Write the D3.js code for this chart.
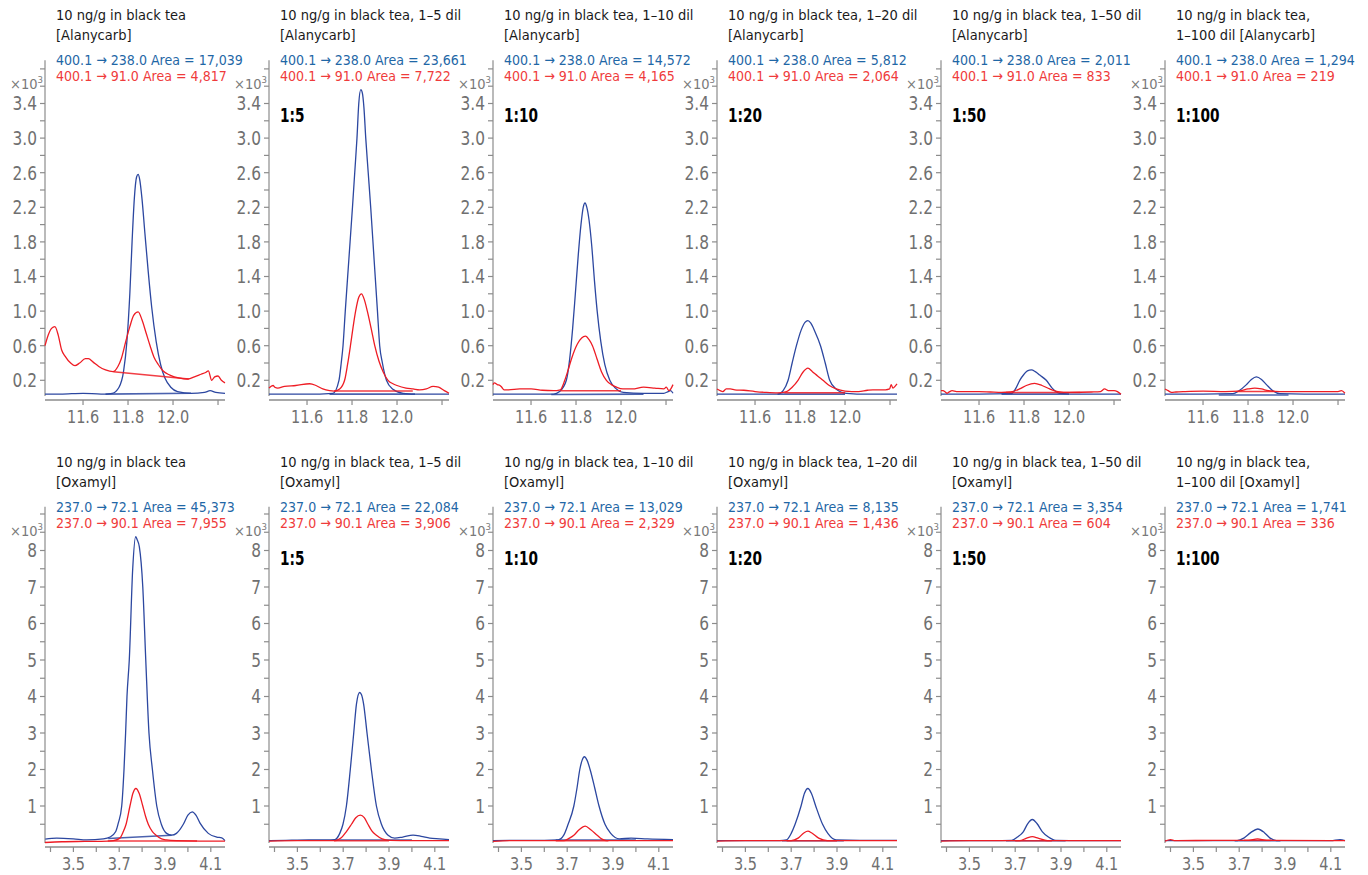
<!DOCTYPE html>
<html><head><meta charset="utf-8">
<script src="https://cdn.jsdelivr.net/npm/d3@7"></script>
<style>
html,body{margin:0;padding:0;background:#fff;}
svg{display:block;}
text{font-stretch:condensed;}
</style>
</head><body>
<svg id="chart" width="1368" height="875"></svg>
<script>
// ---------- text data ----------
const titlesTop = [
  ["10 ng/g in black tea", "[Alanycarb]"],
  ["10 ng/g in black tea, 1–5 dil", "[Alanycarb]"],
  ["10 ng/g in black tea, 1–10 dil", "[Alanycarb]"],
  ["10 ng/g in black tea, 1–20 dil", "[Alanycarb]"],
  ["10 ng/g in black tea, 1–50 dil", "[Alanycarb]"],
  ["10 ng/g in black tea,", "1–100 dil [Alanycarb]"]
];
const titlesBottom = [
  ["10 ng/g in black tea", "[Oxamyl]"],
  ["10 ng/g in black tea, 1–5 dil", "[Oxamyl]"],
  ["10 ng/g in black tea, 1–10 dil", "[Oxamyl]"],
  ["10 ng/g in black tea, 1–20 dil", "[Oxamyl]"],
  ["10 ng/g in black tea, 1–50 dil", "[Oxamyl]"],
  ["10 ng/g in black tea,", "1–100 dil [Oxamyl]"]
];
const dilutions = ["", "1:5", "1:10", "1:20", "1:50", "1:100"];
const transTop = ["400.1 → 238.0", "400.1 → 91.0"];
const transBottom = ["237.0 → 72.1", "237.0 → 90.1"];
const areaTopQuant = ["17,039", "23,661", "14,572", "5,812", "2,011", "1,294"];
const areaTopQual  = ["4,817", "7,722", "4,165", "2,064", "833", "219"];
const areaBotQuant = ["45,373", "22,084", "13,029", "8,135", "3,354", "1,741"];
const areaBotQual  = ["7,955", "3,906", "2,329", "1,436", "604", "336"];

// ---------- axis data ----------
const xDomainTop = [11.431, 12.231];
const xTicksTop = [11.6, 11.8, 12.0, 12.2];
const xLabelsTop = [11.6, 11.8, 12.0];
const yDomainTop = [0, 3.9];
const yTicksTop = [0.2,0.4,0.6,0.8,1.0,1.2,1.4,1.6,1.8,2.0,2.2,2.4,2.6,2.8,3.0,3.2,3.4,3.6,3.8];
const yLabelsTop = [0.2,0.6,1.0,1.4,1.8,2.2,2.6,3.0,3.4];

const xDomainBot = [3.376, 4.162];
const xTicksBot = [3.4,3.5,3.6,3.7,3.8,3.9,4.0,4.1];
const xLabelsBot = [3.5,3.7,3.9,4.1];
const yDomainBot = [0, 9.2];
const yTicksBot = [0.5,1,1.5,2,2.5,3,3.5,4,4.5,5,5.5,6,6.5,7,7.5,8,8.5,9];
const yLabelsBot = [1,2,3,4,5,6,7,8];

// ---------- Alanycarb traces (time min, counts x10^3) ----------
const ala1Blue = [[11.431,0.04],[11.5,0.04],[11.6,0.05],[11.68,0.04],[11.73,0.05],[11.76,0.12],[11.78,0.3],[11.795,0.65],[11.808,1.2],[11.818,1.8],[11.828,2.3],[11.838,2.55],[11.845,2.58],[11.852,2.52],[11.862,2.3],[11.875,1.9],[11.89,1.45],[11.905,1.05],[11.925,0.65],[11.945,0.38],[11.965,0.22],[11.99,0.12],[12.02,0.07],[12.08,0.05],[12.14,0.06],[12.165,0.08],[12.19,0.06],[12.231,0.05]];
const ala1Red = [[11.431,0.6],[11.445,0.72],[11.46,0.8],[11.475,0.82],[11.49,0.72],[11.505,0.55],[11.52,0.48],[11.545,0.4],[11.564,0.37],[11.585,0.4],[11.61,0.45],[11.624,0.45],[11.645,0.41],[11.67,0.36],[11.70,0.32],[11.733,0.3],[11.755,0.36],[11.77,0.45],[11.79,0.65],[11.808,0.82],[11.825,0.95],[11.845,0.99],[11.862,0.9],[11.88,0.75],[11.898,0.6],[11.915,0.47],[11.935,0.38],[11.955,0.31],[11.986,0.26],[12.03,0.225],[12.067,0.215],[12.095,0.24],[12.125,0.27],[12.145,0.29],[12.157,0.31],[12.172,0.2],[12.185,0.24],[12.2,0.25],[12.215,0.2],[12.231,0.17]];
const ala1Base = [[[11.70,0.04],[12.08,0.05]], [[11.735,0.30],[12.07,0.215]]];

const ala2Blue = [[11.431,0.04],[11.6,0.04],[11.715,0.05],[11.742,0.2],[11.752,0.4],[11.760,0.6],[11.77,1.0],[11.786,1.6],[11.802,2.2],[11.812,2.6],[11.822,3.0],[11.830,3.4],[11.839,3.56],[11.846,3.52],[11.853,3.35],[11.861,3.0],[11.872,2.6],[11.883,2.2],[11.898,1.6],[11.913,1.0],[11.923,0.6],[11.935,0.4],[11.953,0.2],[11.98,0.1],[12.027,0.05],[12.1,0.04],[12.231,0.04]];
const ala2Red = [[11.431,0.11],[11.449,0.14],[11.457,0.12],[11.47,0.11],[11.5,0.13],[11.55,0.14],[11.612,0.16],[11.64,0.14],[11.67,0.1],[11.7,0.08],[11.72,0.075],[11.745,0.1],[11.767,0.2],[11.78,0.38],[11.793,0.6],[11.805,0.82],[11.816,1.0],[11.83,1.16],[11.842,1.2],[11.855,1.13],[11.868,1.0],[11.885,0.8],[11.901,0.6],[11.92,0.42],[11.938,0.3],[11.96,0.2],[11.982,0.16],[12.0,0.14],[12.04,0.11],[12.071,0.1],[12.1,0.09],[12.13,0.1],[12.16,0.13],[12.185,0.12],[12.21,0.08],[12.231,0.05]];
const ala2Base = [[[11.70,0.04],[12.08,0.04]], [[11.72,0.075],[12.07,0.075]]];

const ala3Blue = [[11.431,0.04],[11.6,0.04],[11.7,0.04],[11.727,0.07],[11.757,0.2],[11.772,0.45],[11.785,0.8],[11.797,1.2],[11.81,1.65],[11.822,2.0],[11.832,2.2],[11.84,2.25],[11.848,2.2],[11.858,2.05],[11.87,1.75],[11.882,1.35],[11.894,1.0],[11.91,0.65],[11.928,0.38],[11.95,0.2],[11.975,0.11],[12.01,0.06],[12.1,0.05],[12.19,0.05],[12.21,0.07],[12.22,0.08],[12.231,0.05]];
const ala3Red = [[11.431,0.15],[11.437,0.17],[11.45,0.15],[11.462,0.14],[11.47,0.12],[11.48,0.09],[11.5,0.09],[11.55,0.1],[11.6,0.1],[11.65,0.085],[11.7,0.08],[11.73,0.09],[11.75,0.2],[11.765,0.32],[11.78,0.45],[11.806,0.62],[11.825,0.69],[11.842,0.71],[11.858,0.67],[11.873,0.6],[11.893,0.45],[11.913,0.3],[11.935,0.2],[11.957,0.15],[11.98,0.12],[12.008,0.1],[12.05,0.1],[12.1,0.12],[12.15,0.11],[12.19,0.1],[12.201,0.12],[12.213,0.08],[12.231,0.15]];
const ala3Base = [[[11.69,0.035],[12.1,0.04]], [[11.73,0.08],[12.0,0.08]]];

const ala4Blue = [[11.431,0.04],[11.6,0.04],[11.702,0.04],[11.725,0.08],[11.747,0.2],[11.765,0.4],[11.784,0.6],[11.805,0.78],[11.822,0.87],[11.835,0.89],[11.848,0.86],[11.865,0.77],[11.891,0.6],[11.912,0.4],[11.932,0.2],[11.96,0.1],[12.006,0.05],[12.1,0.04],[12.231,0.04]];
const ala4Red = [[11.431,0.1],[11.445,0.08],[11.457,0.07],[11.472,0.1],[11.49,0.1],[11.51,0.09],[11.55,0.085],[11.6,0.07],[11.65,0.06],[11.7,0.055],[11.74,0.07],[11.765,0.12],[11.791,0.2],[11.812,0.29],[11.835,0.34],[11.855,0.3],[11.878,0.25],[11.902,0.2],[11.93,0.14],[11.961,0.1],[12.0,0.075],[12.03,0.07],[12.06,0.07],[12.1,0.085],[12.124,0.09],[12.18,0.09],[12.198,0.1],[12.205,0.15],[12.213,0.11],[12.222,0.13],[12.231,0.16]];
const ala4Base = [[[11.70,0.04],[12.0,0.04]], [[11.73,0.055],[12.0,0.055]]];

const ala5Blue = [[11.431,0.04],[11.6,0.04],[11.744,0.045],[11.762,0.1],[11.781,0.2],[11.8,0.27],[11.815,0.31],[11.833,0.32],[11.85,0.3],[11.87,0.26],[11.899,0.2],[11.925,0.11],[11.959,0.05],[12.05,0.04],[12.231,0.04]];
const ala5Red = [[11.431,0.08],[11.44,0.08],[11.45,0.065],[11.458,0.05],[11.47,0.07],[11.48,0.08],[11.5,0.07],[11.55,0.07],[11.6,0.07],[11.65,0.065],[11.7,0.06],[11.74,0.065],[11.78,0.1],[11.81,0.14],[11.847,0.165],[11.88,0.14],[11.914,0.1],[11.95,0.07],[12.0,0.06],[12.1,0.065],[12.14,0.07],[12.158,0.1],[12.175,0.08],[12.2,0.08],[12.215,0.07],[12.231,0.04]];
const ala5Base = [[[11.70,0.04],[12.0,0.04]], [[11.72,0.06],[12.05,0.06]]];

const ala6Blue = [[11.431,0.04],[11.6,0.04],[11.733,0.045],[11.76,0.08],[11.793,0.15],[11.815,0.21],[11.837,0.24],[11.86,0.21],[11.882,0.15],[11.91,0.08],[11.941,0.045],[12.05,0.04],[12.231,0.04]];
const ala6Red = [[11.431,0.1],[11.445,0.08],[11.46,0.06],[11.48,0.065],[11.52,0.07],[11.6,0.075],[11.7,0.07],[11.76,0.075],[11.8,0.1],[11.83,0.11],[11.86,0.1],[11.89,0.08],[11.94,0.07],[12.0,0.07],[12.1,0.07],[12.2,0.07],[12.215,0.08],[12.231,0.05]];
const ala6Base = [[[11.67,0.03],[11.98,0.03]], [[11.75,0.07],[11.92,0.07]]];

// ---------- Oxamyl traces (time min, counts x10^3) ----------
const oxa1Blue = [[3.377,0.09],[3.427,0.12],[3.50,0.1],[3.558,0.07],[3.631,0.1],[3.660,0.15],[3.685,0.3],[3.696,0.53],[3.711,1.0],[3.721,2.0],[3.728,3.0],[3.734,4.0],[3.744,5.0],[3.759,7.5],[3.772,8.38],[3.778,8.3],[3.788,8.1],[3.803,7.0],[3.816,5.0],[3.830,3.0],[3.845,2.0],[3.864,1.0],[3.884,0.5],[3.907,0.25],[3.929,0.2],[3.95,0.25],[3.98,0.5],[4.0,0.75],[4.019,0.84],[4.035,0.75],[4.053,0.53],[4.089,0.25],[4.126,0.15],[4.148,0.13],[4.162,0.05]];
const oxa1Red = [[3.376,0.0],[3.45,0.02],[3.55,0.03],[3.65,0.04],[3.674,0.05],[3.703,0.12],[3.718,0.3],[3.73,0.5],[3.747,1.0],[3.76,1.35],[3.773,1.48],[3.787,1.35],[3.803,1.0],[3.815,0.72],[3.827,0.5],[3.845,0.3],[3.861,0.2],[3.885,0.1],[3.907,0.07],[3.95,0.05],[4.05,0.04],[4.162,0.04]];
const oxa1Base = [[[3.652,0.11],[3.929,0.2]], [[3.65,0.04],[4.04,0.04]]];

const oxa2Blue = [[3.376,0.05],[3.45,0.06],[3.55,0.07],[3.63,0.07],[3.663,0.08],[3.685,0.25],[3.699,0.5],[3.714,1.0],[3.731,2.0],[3.746,3.0],[3.758,3.8],[3.772,4.11],[3.78,4.05],[3.789,3.8],[3.804,3.0],[3.823,2.0],[3.845,1.0],[3.867,0.5],[3.896,0.2],[3.925,0.12],[3.96,0.15],[4.005,0.2],[4.04,0.17],[4.078,0.12],[4.12,0.1],[4.162,0.08]];
const oxa2Red = [[3.376,0.04],[3.5,0.05],[3.6,0.05],[3.663,0.05],[3.69,0.12],[3.714,0.3],[3.736,0.5],[3.755,0.68],[3.775,0.75],[3.792,0.68],[3.808,0.5],[3.825,0.32],[3.845,0.2],[3.87,0.1],[3.903,0.06],[4.0,0.05],[4.162,0.05]];
const oxa2Base = [[[3.66,0.07],[4.0,0.07]], [[3.66,0.05],[3.9,0.05]]];

const oxa3Blue = [[3.376,0.05],[3.5,0.06],[3.6,0.06],[3.66,0.07],[3.685,0.2],[3.704,0.5],[3.729,1.0],[3.743,1.5],[3.755,2.0],[3.765,2.25],[3.775,2.35],[3.787,2.25],[3.8,2.0],[3.82,1.5],[3.839,1.0],[3.865,0.5],[3.89,0.25],[3.928,0.1],[3.979,0.12],[4.05,0.1],[4.162,0.08]];
const oxa3Red = [[3.376,0.03],[3.45,0.05],[3.55,0.05],[3.686,0.05],[3.71,0.12],[3.729,0.2],[3.752,0.35],[3.779,0.45],[3.803,0.35],[3.831,0.2],[3.85,0.1],[3.872,0.05],[4.0,0.05],[4.162,0.05]];
const oxa3Base = [[[3.65,0.07],[4.0,0.07]], [[3.65,0.05],[3.88,0.05]]];

const oxa4Blue = [[3.376,0.05],[3.5,0.05],[3.65,0.05],[3.679,0.07],[3.7,0.25],[3.717,0.5],[3.743,1.0],[3.758,1.35],[3.773,1.48],[3.788,1.35],[3.807,1.0],[3.837,0.5],[3.86,0.25],[3.896,0.07],[4.0,0.06],[4.162,0.06]];
const oxa4Red = [[3.376,0.04],[3.5,0.05],[3.7,0.05],[3.73,0.12],[3.755,0.26],[3.773,0.31],[3.79,0.26],[3.82,0.12],[3.858,0.05],[4.0,0.05],[4.162,0.05]];
const oxa4Base = [[[3.66,0.05],[3.93,0.05]], [[3.68,0.05],[3.9,0.05]]];

const oxa5Blue = [[3.376,0.05],[3.6,0.05],[3.685,0.06],[3.71,0.15],[3.736,0.3],[3.755,0.52],[3.775,0.63],[3.795,0.52],[3.818,0.3],[3.845,0.15],[3.877,0.06],[4.0,0.05],[4.162,0.05]];
const oxa5Red = [[3.376,0.04],[3.5,0.05],[3.72,0.05],[3.75,0.12],[3.775,0.16],[3.8,0.12],[3.84,0.05],[4.162,0.05]];
const oxa5Base = [[[3.66,0.05],[3.92,0.05]], [[3.7,0.05],[3.86,0.05]]];

const oxa6Blue = [[3.376,0.05],[3.6,0.05],[3.691,0.05],[3.72,0.12],[3.75,0.27],[3.781,0.37],[3.81,0.27],[3.835,0.12],[3.862,0.05],[4.1,0.05],[4.14,0.08],[4.162,0.05]];
const oxa6Red = [[3.376,0.04],[3.4,0.08],[3.42,0.05],[3.6,0.06],[3.74,0.06],[3.78,0.1],[3.82,0.06],[4.162,0.05]];
const oxa6Base = [[[3.68,0.05],[3.88,0.05]], [[3.72,0.06],[3.84,0.06]]];

// ---------- drawing ----------
const FONT = "'Liberation Sans Narrow','DejaVu Sans Condensed','DejaVu Sans',sans-serif";
const C_BLUE_LINE = "#2c47a0", C_RED_LINE = "#ee1c24";
const C_BLUE_TXT = "#1f67a6", C_RED_TXT = "#ef3b3b";
const C_GRAY = "#707070", C_AXIS = "#8c8c8c";

const svg = d3.select("#chart");
const plotW = 180;
const colX = d3.range(6).map(i => 45 + 224 * i);

// text placed with a horizontal squeeze to mimic a condensed face
function sText(sel, x, y, sx) {
  return sel.append("text").attr("transform", `translate(${x},${y}) scale(${sx},1)`);
}

const rows = [
  { top: 0, xAxisY: 400, yRange: [397.6, 60.25], yDomain: yDomainTop, xDomain: xDomainTop,
    xTicks: xTicksTop, xLabels: xLabelsTop, yTicks: yTicksTop, yLabels: yLabelsTop, yFmt: d3.format(".1f"), xFmt: d3.format(".1f"),
    titles: titlesTop, trans: transTop, areasQ: areaTopQuant, areasR: areaTopQual, dilY: 122,
    blue: [ala1Blue, ala2Blue, ala3Blue, ala4Blue, ala5Blue, ala6Blue],
    red: [ala1Red, ala2Red, ala3Red, ala4Red, ala5Red, ala6Red],
    base: [ala1Base, ala2Base, ala3Base, ala4Base, ala5Base, ala6Base] },
  { top: 447, xAxisY: 847, yRange: [842.5, 506.7], yDomain: yDomainBot, xDomain: xDomainBot,
    xTicks: xTicksBot, xLabels: xLabelsBot, yTicks: yTicksBot, yLabels: yLabelsBot, yFmt: d3.format("d"), xFmt: d3.format(".1f"),
    titles: titlesBottom, trans: transBottom, areasQ: areaBotQuant, areasR: areaBotQual, dilY: 118,
    blue: [oxa1Blue, oxa2Blue, oxa3Blue, oxa4Blue, oxa5Blue, oxa6Blue],
    red: [oxa1Red, oxa2Red, oxa3Red, oxa4Red, oxa5Red, oxa6Red],
    base: [oxa1Base, oxa2Base, oxa3Base, oxa4Base, oxa5Base, oxa6Base] }
];

rows.forEach((row, ri) => {
  colX.forEach((x0, ci) => {
    const g = svg.append("g");
    const xs = d3.scaleLinear().domain(row.xDomain).range([x0, x0 + plotW]);
    const ys = d3.scaleLinear().domain(row.yDomain).range(row.yRange);

    // titles
    const t = g.append("g").attr("font-family", FONT);
    t.append("text").attr("x", x0 + 11).attr("y", row.top + 20).attr("font-size", 14.5).attr("fill", "#1a1a1a").text(row.titles[ci][0]);
    t.append("text").attr("x", x0 + 11).attr("y", row.top + 40).attr("font-size", 14.5).attr("fill", "#1a1a1a").text(row.titles[ci][1]);
    sText(t, x0 + 11, row.top + 64.5, 0.95).attr("font-size", 14.8).attr("fill", C_BLUE_TXT)
      .text(row.trans[0] + " Area = " + row.areasQ[ci]);
    sText(t, x0 + 11, row.top + 81, 0.95).attr("font-size", 14.8).attr("fill", C_RED_TXT)
      .text(row.trans[1] + " Area = " + row.areasR[ci]);

    // x10^3
    const e = g.append("text").attr("x", x0 - 2).attr("y", row.top + 89).attr("text-anchor", "end")
      .attr("font-family", FONT).attr("font-size", 14.5).attr("fill", "#7a7a7a");
    e.append("tspan").text("×10");
    e.append("tspan").attr("font-size", 9.5).attr("dy", -6).text("3");

    // dilution label
    if (dilutions[ci]) {
      sText(g, x0 + 11, row.top + row.dilY, 0.8)
        .attr("font-family", FONT).attr("font-size", 19).attr("font-weight", "bold").attr("fill", "#000")
        .text(dilutions[ci]);
    }

    // y axis
    const yTop = ys(row.yDomain[1]);
    g.append("line").attr("x1", x0).attr("x2", x0).attr("y1", yTop).attr("y2", row.xAxisY - 4)
      .attr("stroke", C_AXIS).attr("stroke-width", 1.2);
    g.selectAll(".yt").data(row.yTicks).join("line")
      .attr("x1", x0 - 5).attr("x2", x0).attr("y1", d => ys(d)).attr("y2", d => ys(d))
      .attr("stroke", C_AXIS).attr("stroke-width", 1.2);
    row.yLabels.forEach(d => {
      sText(g, x0 - 8, ys(d), 0.9).attr("dy", "0.36em").attr("text-anchor", "end")
        .attr("font-family", FONT).attr("font-size", 19).attr("fill", C_GRAY).text(row.yFmt(d));
    });

    // x axis
    g.append("line").attr("x1", x0).attr("x2", x0 + plotW).attr("y1", row.xAxisY).attr("y2", row.xAxisY)
      .attr("stroke", "#a8a8a8").attr("stroke-width", 2);
    g.selectAll(".xt").data(row.xTicks).join("line")
      .attr("x1", d => xs(d)).attr("x2", d => xs(d)).attr("y1", row.xAxisY).attr("y2", row.xAxisY + 5)
      .attr("stroke", C_AXIS).attr("stroke-width", 1.2);
    row.xLabels.forEach(d => {
      sText(g, xs(d), row.xAxisY + 22.5, 0.87).attr("text-anchor", "middle")
        .attr("font-family", FONT).attr("font-size", 18.5).attr("fill", C_GRAY).text(row.xFmt(d));
    });

    // traces
    const line = d3.line().x(d => xs(d[0])).y(d => ys(d[1])).curve(d3.curveMonotoneX);
    const seg = d3.line().x(d => xs(d[0])).y(d => ys(d[1]));
    g.append("path").attr("d", seg(row.base[ci][0])).attr("fill", "none")
      .attr("stroke", C_BLUE_LINE).attr("stroke-width", 1.6).attr("opacity", 0.85);
    g.append("path").attr("d", line(row.blue[ci])).attr("fill", "none")
      .attr("stroke", C_BLUE_LINE).attr("stroke-width", 1.3).attr("stroke-linejoin", "round");
    g.append("path").attr("d", seg(row.base[ci][1])).attr("fill", "none")
      .attr("stroke", C_RED_LINE).attr("stroke-width", 1.5).attr("opacity", 0.85);
    g.append("path").attr("d", line(row.red[ci])).attr("fill", "none")
      .attr("stroke", C_RED_LINE).attr("stroke-width", 1.3).attr("stroke-linejoin", "round");
  });
});
</script>
</body></html>
